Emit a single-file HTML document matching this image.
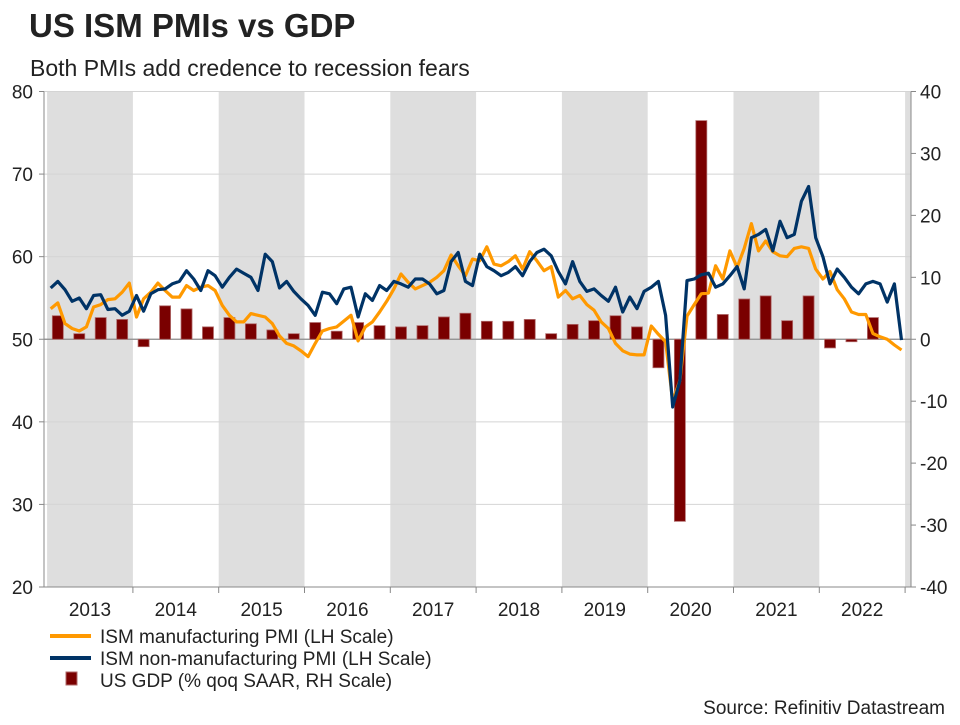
<!DOCTYPE html>
<html><head><meta charset="utf-8"><style>
body{margin:0;background:#fff;width:960px;height:720px;overflow:hidden;font-family:"Liberation Sans",Arial,sans-serif;}
svg text{font-family:"Liberation Sans",Arial,sans-serif;fill:#222;}
</style></head><body>
<svg id="chart" width="960" height="720" viewBox="0 0 960 720" xmlns="http://www.w3.org/2000/svg">
<text x="29" y="37" font-size="33" font-weight="bold" fill="#000">US ISM PMIs vs GDP</text>
<text x="30" y="76" font-size="23">Both PMIs add credence to recession fears</text>
<g id="bands"></g><g id="grid"></g><g id="bars"></g><g id="lines"></g><g id="axes"></g>
<g>
<line x1="50" y1="636" x2="91" y2="636" stroke="#ff9900" stroke-width="4"/>
<text x="100" y="643" font-size="19">ISM manufacturing PMI (LH Scale)</text>
<line x1="50" y1="658" x2="91" y2="658" stroke="#003366" stroke-width="4"/>
<text x="100" y="665" font-size="19">ISM non-manufacturing PMI (LH Scale)</text>
<rect x="66" y="672" width="11" height="13" fill="#7a0000" stroke="#b06a6a"/>
<text x="100" y="687" font-size="19">US GDP (% qoq SAAR, RH Scale)</text>
</g>
<text x="945" y="714" font-size="19" text-anchor="end">Source: Refinitiv Datastream</text>
</svg>
<script>
const years = ["2013","2014","2015","2016","2017","2018","2019","2020","2021","2022"];
const leftTicks = [20,30,40,50,60,70,80];
const rightTicks = [-40,-30,-20,-10,0,10,20,30,40];
const manufacturing = [53.7,54.4,51.9,51.3,51.0,51.5,53.9,54.2,54.8,54.9,55.7,56.8,
52.7,54.9,55.7,56.8,55.9,55.1,55.1,56.5,55.9,56.3,56.5,55.9,
54.1,52.9,52.1,52.1,53.1,52.9,52.7,51.9,50.4,49.5,49.2,48.6,
47.9,49.5,51.0,51.3,51.5,52.2,52.9,49.8,51.5,52.1,53.3,54.6,
56.1,57.9,56.9,56.1,56.5,56.9,57.5,58.3,60.2,58.9,57.7,59.7,
59.5,61.2,59.1,58.9,59.4,60.1,58.5,60.6,59.5,58.3,58.8,55.1,
55.9,54.9,55.3,54.2,53.5,52.1,51.3,49.5,48.6,48.2,48.1,48.1,
51.6,50.6,49.7,42.5,45.0,52.8,54.2,55.5,55.6,58.9,57.3,60.7,
58.7,61.0,64.0,60.7,61.9,60.6,60.1,60.0,61.0,61.2,61.0,58.5,
57.3,58.2,56.0,54.9,53.3,53.0,53.0,50.7,50.3,50.0,49.3,48.7];
const nonManufacturing = [56.2,57.0,56.0,54.6,55.0,53.7,55.3,55.4,53.6,53.7,52.9,53.4,
55.3,53.4,55.5,56.0,56.1,56.7,57.0,58.3,57.3,55.9,58.3,57.7,
56.3,57.5,58.5,58.0,57.5,55.9,60.3,59.4,56.2,57.0,55.8,54.9,
54.1,52.9,55.7,55.5,54.3,56.1,56.3,52.7,55.5,54.7,56.5,55.9,
57.0,56.7,56.3,57.3,57.3,56.7,55.5,55.9,59.4,60.5,57.0,56.5,
60.3,58.8,58.3,57.7,58.1,58.8,57.7,59.4,60.5,60.9,60.1,58.2,
56.7,59.4,57.0,55.8,56.1,55.3,54.6,56.3,53.3,55.1,53.7,55.8,
56.3,57.0,52.9,41.8,45.0,57.1,57.3,57.8,58.0,56.3,56.7,57.7,
58.8,56.1,62.3,62.7,63.3,60.7,64.3,62.3,62.7,66.7,68.5,62.3,
60.0,56.7,58.5,57.5,56.3,55.5,56.7,57.0,56.7,54.5,56.7,49.9];
const gdp = [3.8,0.9,3.5,3.2,-1.2,5.4,4.9,2.0,3.5,2.5,1.5,0.9,
2.7,1.3,2.7,2.2,2.0,2.2,3.6,4.2,2.9,2.9,3.2,0.9,
2.4,3.0,3.8,2.0,-4.6,-29.4,35.3,4.0,6.5,7.0,3.0,7.0,-1.4,-0.4,3.5];

const NS="http://www.w3.org/2000/svg";
const XL=44, X0=47.1, YW=85.8, XR=911, YT=91.5, YB=587;
function xMonth(i){return X0+(i+0.5)*YW/12;}
function xQuarter(q){return X0+(q+0.5)*YW/4;}
function yL(v){return YB-(v-20)/60*(YB-YT);}
function yR(v){return YB-(v+40)/80*(YB-YT);}
function mk(tag,attrs,parent){const e=document.createElementNS(NS,tag);for(const k in attrs)e.setAttribute(k,attrs[k]);document.getElementById(parent).appendChild(e);return e;}

for(let y=0;y<=years.length;y+=2){
  const xs=Math.max(XL,X0+y*YW), xe=Math.min(XR,X0+(y+1)*YW);
  const b=mk('rect',{x:xs,y:YT,width:xe-xs,height:YB-YT,fill:'#dedede'},'bands');
  
  
}
leftTicks.forEach(v=>{
  if(v>20){const g=mk('line',{x1:XL,x2:XR,y1:yL(v),y2:yL(v),stroke:'#d4d4d4','stroke-width':1},'grid');
  
  }
  const t=mk('text',{x:33,y:yL(v)+7,'font-size':19,'text-anchor':'end'},'axes');t.textContent=v;
  
  
  mk('line',{x1:39,x2:XL,y1:yL(v),y2:yL(v),stroke:'#888'},'axes');
});
rightTicks.forEach(v=>{
  const t=mk('text',{x:920,y:yR(v)+7,'font-size':19},'axes');t.textContent=v;
  
  
  mk('line',{x1:XR,x2:916,y1:yR(v),y2:yR(v),stroke:'#888'},'axes');
});
years.forEach((yr,k)=>{
  const t=mk('text',{x:X0+(k+0.5)*YW,y:616,'font-size':19,'text-anchor':'middle'},'axes');t.textContent=yr;
  
  
  mk('line',{x1:X0+(k+1)*YW,x2:X0+(k+1)*YW,y1:YB,y2:YB+6,stroke:'#888'},'axes');
});
mk('line',{x1:XL,x2:XL,y1:YT,y2:YB,stroke:'#888'},'axes');
mk('line',{x1:XR,x2:XR,y1:YT,y2:YB,stroke:'#888'},'axes');
mk('line',{x1:XL,x2:XR,y1:YB,y2:YB,stroke:'#888'},'axes');
mk('line',{x1:XL,x2:XR,y1:yR(0),y2:yR(0),stroke:'#8c8c8c','stroke-width':1.3},'grid');

gdp.forEach((v,q)=>{
  const y0=yR(0), y1=yR(v);
  const r=mk('rect',{x:xQuarter(q)-5.5,y:Math.min(y0,y1),width:11,height:Math.abs(y1-y0),fill:'#7a0000',stroke:'#b06a6a','stroke-width':0.8},'bars');
  
  
});
function line(arr,color,name){
  const d=arr.map((v,i)=>(i?'L':'M')+xMonth(i).toFixed(1)+','+yL(v).toFixed(1)).join('');
  const p=mk('path',{d:d,fill:'none',stroke:color,'stroke-width':3.2,'stroke-linejoin':'round'},'lines');
  
  
}
line(manufacturing,'#ff9900','manufacturing-pmi-line');
line(nonManufacturing,'#003366','non-manufacturing-pmi-line');
</script>
</body></html>
